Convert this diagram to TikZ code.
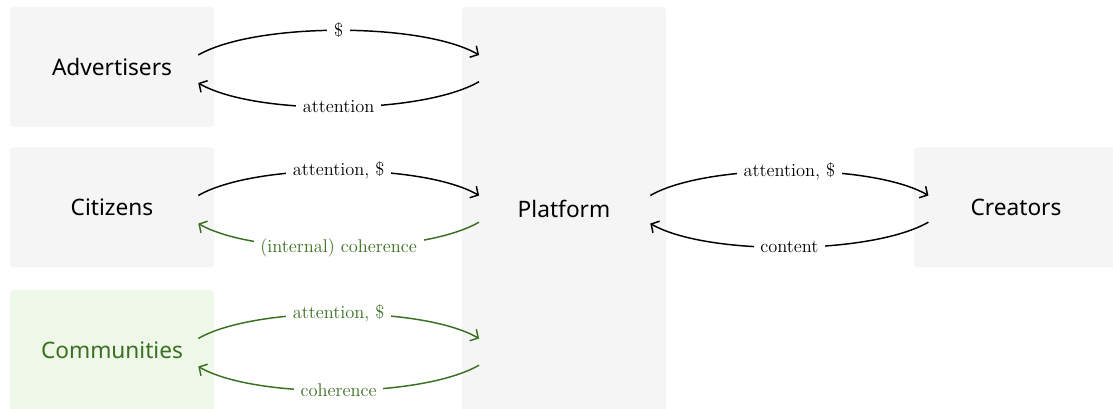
\documentclass[tikz,border=0pt]{standalone}
\usepackage{fontspec}
\setsansfont{Noto Sans}
\usetikzlibrary{arrows.meta}
\definecolor{boxgray}{RGB}{245,245,245}
\definecolor{commfill}{RGB}{239,248,232}
\definecolor{cohgreen}{RGB}{58,112,34}
\begin{document}
\begin{tikzpicture}[x=0.75pt, y=-0.75pt,
    box/.style={fill=boxgray, rounded corners=2.5pt, minimum width=153pt, minimum height=90pt, font=\sffamily\fontsize{17}{20}\selectfont},
    flow/.style={line width=1.1pt, looseness=0.6, -{Straight Barb[length=4.5pt,width=10pt]}},
    over/.style={out=30, in=150},
    under/.style={out=210, in=-30},
    lbl/.style={fill=white, inner xsep=5pt, inner ysep=1pt, font=\fontsize{13.8}{16}\selectfont}]
    \useasboundingbox (0, 0) rectangle (1113, 409);
    \node[box] (adv) at (112, 67) {Advertisers};
    \node[box] (cit) at (112, 207.5) {Citizens};
    \node[box, fill=commfill, text=cohgreen, minimum height=91pt] (com) at (112, 350.5) {Communities};
    \node[box, minimum height=303pt] (plat) at (564, 209) {Platform};
    \node[box] (cre) at (1016, 207.5) {Creators};
    \coordinate (pa) at (plat.west |- adv.east);
    \coordinate (pc) at (plat.west |- cit.east);
    \coordinate (pm) at (plat.west |- com.east);
    \coordinate (pr) at (plat.east |- cre.west);
    \draw[flow] ([xshift=-12pt,yshift=9pt]adv.east) to[over] node[lbl] {\$} ([xshift=13pt,yshift=9pt]pa);
    \draw[flow] ([xshift=13pt,yshift=-11pt]pa) to[under] node[lbl] {attention} ([xshift=-12pt,yshift=-12pt]adv.east);
    \draw[flow] ([xshift=-12pt,yshift=9pt]cit.east) to[over] node[lbl] {attention, \$} ([xshift=13pt,yshift=9pt]pc);
    \draw[flow, cohgreen] ([xshift=13pt,yshift=-11pt]pc) to[under] node[lbl] {(internal) coherence} ([xshift=-12pt,yshift=-12pt]cit.east);
    \draw[flow, cohgreen] ([xshift=-12pt,yshift=9pt]com.east) to[over] node[lbl] {attention, \$} ([xshift=13pt,yshift=9pt]pm);
    \draw[flow, cohgreen] ([xshift=13pt,yshift=-11pt]pm) to[under] node[lbl] {coherence} ([xshift=-12pt,yshift=-12pt]com.east);
    \draw[flow] ([xshift=-12pt,yshift=9pt]pr) to[over] node[lbl] {attention, \$} ([xshift=11pt,yshift=9pt]cre.west);
    \draw[flow] ([xshift=11pt,yshift=-11pt]cre.west) to[under] node[lbl] {content} ([xshift=-12pt,yshift=-12pt]pr);
\end{tikzpicture}
\end{document}
